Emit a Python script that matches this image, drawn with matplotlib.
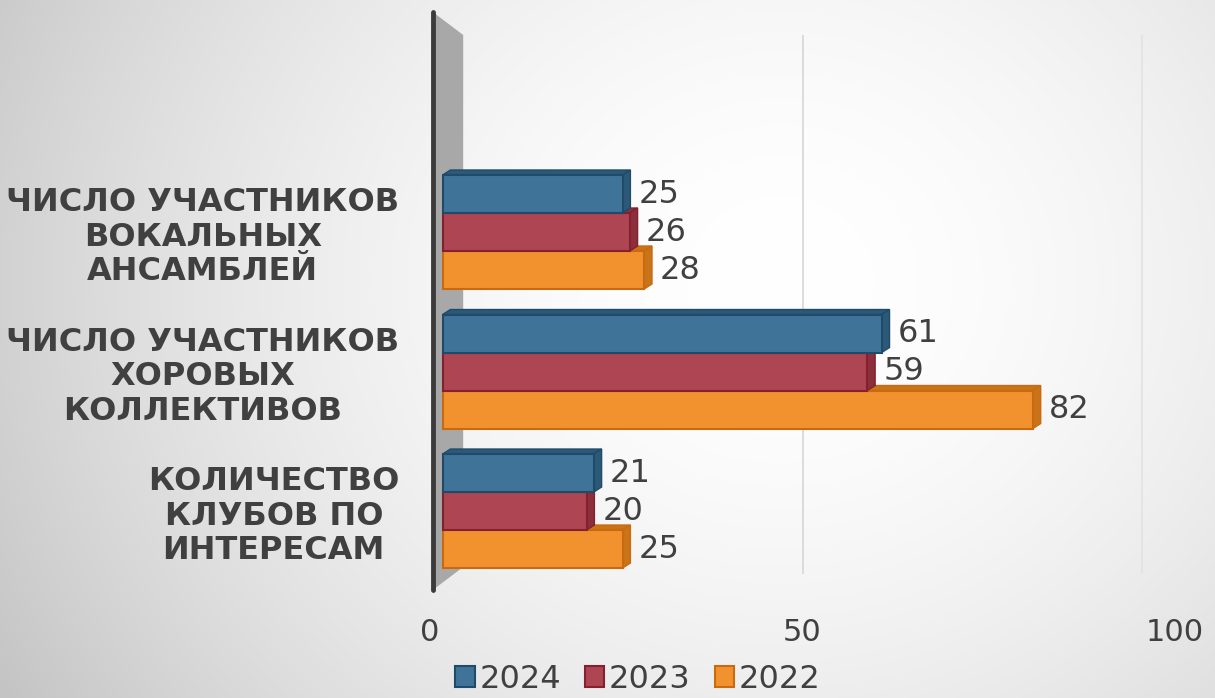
import numpy as np
import matplotlib.pyplot as plt
from matplotlib.patches import Polygon, Rectangle

categories = [
    "ЧИСЛО УЧАСТНИКОВ\nВОКАЛЬНЫХ\nАНСАМБЛЕЙ",
    "ЧИСЛО УЧАСТНИКОВ\nХОРОВЫХ\nКОЛЛЕКТИВОВ",
    "КОЛИЧЕСТВО\nКЛУБОВ ПО\nИНТЕРЕСАМ",
]
years = ["2024", "2023", "2022"]
values_2024 = [25, 61, 21]
values_2023 = [26, 59, 20]
values_2022 = [28, 82, 25]
x_ticks = [0, 50, 100]

face_colors = ["#3f7398", "#ad4553", "#f2922e"]
edge_colors = ["#1f4a6a", "#85202e", "#c96a10"]
side_colors = ["#2d5978", "#8b2f3c", "#c97418"]
text_color = "#404040"

W, H = 1215, 698
fig = plt.figure(figsize=(W / 100, H / 100), dpi=100)

# radial gradient background
bg = fig.add_axes([0, 0, 1, 1], zorder=-5)
yy, xx = np.mgrid[0:H, 0:W]
r = np.sqrt(((xx - 780) / 1.0) ** 2 + ((yy - 280) / 0.9) ** 2)
g = 1.0 - 0.23 * np.clip(r / 900, 0, 1) ** 1.8
bg.imshow(np.dstack([g, g, g]), extent=[0, 1, 0, 1], aspect="auto")
bg.axis("off")

# axes placed so that x=0 sits on the wall and the layout matches
left_px, right_px, top_px, bot_px = 430, 1175, 12, 590
ax = fig.add_axes([left_px / W, 1 - bot_px / H, (right_px - left_px) / W,
                   (bot_px - top_px) / H])
ax.set_facecolor("none")
ax.set_xlim(-1.5, 100)
ax.set_ylim(-0.566, 3.577)

px_x = (right_px - left_px) / 101.5
px_y = (bot_px - top_px) / (3.577 + 0.566)
dx, dy = 8 / px_x, 5 / px_y   # depth of the 3d bars
bar_h = 38 / px_y

# back wall
wall_x0, wall_x1 = -10 / px_x, 21 / px_x
ax.add_patch(Polygon([(wall_x0, 3.577), (wall_x1, 3.577 - 23 / px_y),
                      (wall_x1, -0.566 + 23 / px_y), (wall_x0, -0.566)],
                     closed=True, facecolor="#a8a8a8", edgecolor="none",
                     clip_on=False, zorder=1))
ax.plot([wall_x0, wall_x0], [-0.566, 3.577], color="#3c3c3c", lw=3.5,
        solid_capstyle="round", clip_on=False, zorder=2)

# gridlines on the back plane
grid_colors = ["#d6d6d6", "#e2e2e2"]
for t, c in zip(x_ticks[1:], grid_colors):
    xb = 50 + (t - 50) * 0.943
    ax.vlines(xb, -0.45, 3.41, color=c, lw=1.2, zorder=0)

y_pos = np.arange(len(categories))[::-1]
series = [values_2024, values_2023, values_2022]
offsets = [bar_h, 0, -bar_h]

# draw lower series first so that upper bars sit in front
for k in [2, 1, 0]:
    vals = series[k]
    for yc, v in zip(y_pos, vals):
        yc = yc + offsets[k]
        y0, y1 = yc - bar_h / 2, yc + bar_h / 2
        z = 3 + (2 - k)
        # top face
        ax.add_patch(Polygon([(0, y1), (dx, y1 + dy), (v + dx, y1 + dy), (v, y1)],
                             closed=True, facecolor=side_colors[k],
                             edgecolor=edge_colors[k], lw=1, zorder=z))
        # right face
        ax.add_patch(Polygon([(v, y0), (v + dx, y0 + dy), (v + dx, y1 + dy), (v, y1)],
                             closed=True, facecolor=side_colors[k],
                             edgecolor=edge_colors[k], lw=1, zorder=z))
        # front face
        ax.add_patch(Rectangle((0, y0), v, bar_h, facecolor=face_colors[k],
                               edgecolor=edge_colors[k], lw=1.5, zorder=z + 0.5))
        ax.annotate(str(v), (v, yc), xytext=(11.5, 0), textcoords="offset points",
                    va="center", ha="left", fontsize=23, color=text_color, zorder=10)

ax.set_yticks(y_pos)
ax.set_yticklabels(categories, fontsize=23, fontweight="bold", color=text_color,
                   multialignment="center", linespacing=1.15)
ax.tick_params(axis="y", length=0, pad=22)

ax.set_xticks([50 + (t - 50) * 1.035 for t in x_ticks])
ax.set_xticklabels([str(t) for t in x_ticks], fontsize=22, color=text_color)
ax.tick_params(axis="x", length=0, pad=20)
for s in ax.spines.values():
    s.set_visible(False)

handles = [Rectangle((0, 0), 1, 1, facecolor=face_colors[i], edgecolor=edge_colors[i], lw=1.5)
           for i in range(3)]
fig.legend(handles, years, loc="center", bbox_to_anchor=(0.525, 0.027), ncol=3,
           frameon=False, fontsize=23, handlelength=0.6, handleheight=0.6,
           handletextpad=0.15, columnspacing=0.75, labelcolor=text_color,
           borderaxespad=0, borderpad=0)

fig.savefig("out.png", dpi=100)
